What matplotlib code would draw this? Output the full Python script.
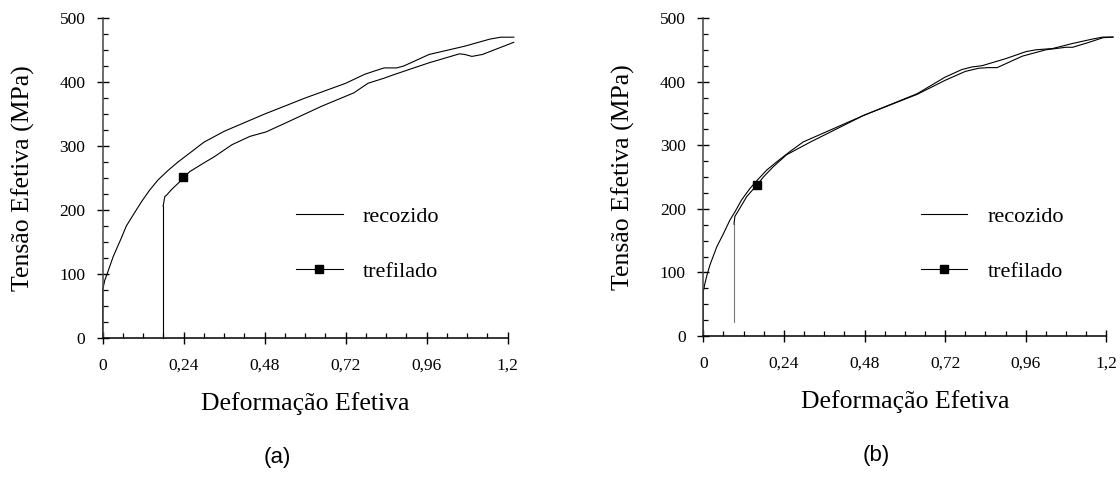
import matplotlib
matplotlib.use("Agg")
import matplotlib.pyplot as plt
from matplotlib.ticker import MultipleLocator, FixedLocator
from matplotlib.lines import Line2D

# ---------------- data ----------------
# panel (a)
a_rec_x = [0.0, 0.0, 0.006, 0.013, 0.031, 0.055, 0.070, 0.090, 0.115, 0.139, 0.164,
           0.194, 0.223, 0.258, 0.30, 0.36, 0.48, 0.60, 0.72, 0.776, 0.81, 0.834,
           0.871, 0.892, 0.967, 1.073, 1.147, 1.179, 1.218]
a_rec_y = [0, 75, 90, 100, 127, 156, 175, 192, 213, 231, 247,
           262, 275, 289, 306, 323, 350, 375, 398, 412, 418, 422,
           422, 425, 443, 456, 467, 470, 470]

a_tre_x = [0.179, 0.179, 0.184, 0.189, 0.204, 0.224, 0.258, 0.298, 0.330, 0.383,
           0.436, 0.484, 0.542, 0.648, 0.744, 0.786, 0.834, 0.860, 0.967, 1.057,
           1.073, 1.094, 1.125, 1.218]
a_tre_y = [0, 206, 221, 223, 232, 242, 260, 273, 283, 302,
           315, 322, 336, 362, 383, 398, 406, 411, 430, 444,
           443, 440, 443, 462]
a_marker_x = [0.237]
a_marker_y = [251]

# panel (b)
b_rec_x = [0.0, 0.0, 0.005, 0.01, 0.02, 0.04, 0.06, 0.079, 0.094, 0.114, 0.139,
           0.159, 0.189, 0.219, 0.258, 0.297, 0.478, 0.637, 0.72, 0.77, 0.80,
           0.83, 0.90, 0.96, 0.99, 1.04, 1.10, 1.16, 1.19, 1.22]
b_rec_y = [0, 70, 83, 94, 112, 140, 161, 182, 195, 214, 232,
           244, 261, 274, 290, 305, 347, 381, 407, 419, 423,
           425, 436, 447, 450, 452, 460, 467, 470, 470]

b_tre_x = [0.0915, 0.0915, 0.094, 0.109, 0.129, 0.159, 0.179, 0.208, 0.248, 0.319,
           0.478, 0.637, 0.72, 0.78, 0.82, 0.85, 0.875, 0.95, 1.02, 1.08,
           1.10, 1.15, 1.19, 1.22]
b_tre_y = [22, 176, 188, 201, 219, 237, 250, 266, 285, 305,
           347, 380, 402, 416, 421, 422, 422, 440, 450, 454,
           454, 462, 469, 470]
b_marker_x = [0.159]
b_marker_y = [237]

x_ticks = [0, 0.24, 0.48, 0.72, 0.96, 1.2]
x_ticklabels = ["0", "0,24", "0,48", "0,72", "0,96", "1,2"]
y_ticks = [0, 100, 200, 300, 400, 500]
y_ticklabels = ["0", "100", "200", "300", "400", "500"]

series_labels = ["recozido", "trefilado"]
panel_labels = ["(a)", "(b)"]
xlabel = "Deformação Efetiva"
ylabel = "Tensão Efetiva (MPa)"

# ---------------- figure ----------------
W, H = 1120, 479
fig = plt.figure(figsize=(W / 100, H / 100), dpi=100)
serif = ["Liberation Serif", "DejaVu Serif"]
sans = ["Liberation Sans", "DejaVu Sans"]


def px_box(left, right, top, bottom):
    return [left / W, 1 - bottom / H, (right - left) / W, (bottom - top) / H]


axes_boxes = [px_box(102.7, 507.7, 18, 338), px_box(703.3, 1106.3, 18, 336)]
panels = [
    (a_rec_x, a_rec_y, a_tre_x, a_tre_y, a_marker_x, a_marker_y, "black"),
    (b_rec_x, b_rec_y, b_tre_x, b_tre_y, b_marker_x, b_marker_y, "#777777"),
]
legend_anchor = [(0.428, 0.294), (0.49, 0.289)]
ylabel_x = [-0.167, -0.17]

for i, (box, data) in enumerate(zip(axes_boxes, panels)):
    rx, ry, tx, ty, mx, my, drop_color = data
    ax = fig.add_axes(box)
    ax.plot(rx, ry, color="black", lw=0.8, clip_on=False)
    # initial vertical jump of the drawn-wire curve
    ax.plot(tx[:2], ty[:2], color=drop_color, lw=0.8, clip_on=False)
    ax.plot(tx[1:], ty[1:], color="black", lw=0.8, clip_on=False)
    ax.plot(mx, my, ls="none", marker="s", ms=6, color="black", clip_on=False)

    ax.set_xlim(0, 1.2)
    ax.set_ylim(0, 500)
    for s in ["top", "right"]:
        ax.spines[s].set_visible(False)
    ax.spines["left"].set_color("#444444")
    ax.spines["left"].set_linewidth(1.1)
    ax.spines["bottom"].set_linewidth(1.1)

    ax.xaxis.set_major_locator(FixedLocator(x_ticks))
    ax.set_xticklabels(x_ticklabels)
    ax.yaxis.set_major_locator(FixedLocator(y_ticks))
    ax.set_yticklabels(y_ticklabels)
    ax.xaxis.set_minor_locator(MultipleLocator(0.06))
    ax.yaxis.set_minor_locator(MultipleLocator(25))
    ax.tick_params(which="major", direction="inout", length=9, width=1.0,
                   labelsize=12.5)
    ax.tick_params(axis="y", which="major", pad=8)
    ax.tick_params(axis="x", which="major", pad=10)
    ax.tick_params(which="minor", direction="in", length=3.6, width=0.9)
    for lab in ax.get_xticklabels() + ax.get_yticklabels():
        lab.set_family(serif)

    ax.set_xlabel(xlabel, fontsize=18.5, family=serif)
    ax.set_ylabel(ylabel, fontsize=18.5, family=serif)
    ax.xaxis.set_label_coords(0.5, -0.17)
    ax.yaxis.set_label_coords(ylabel_x[i], 0.5)

    handles = [
        Line2D([], [], color="black", lw=0.8),
        Line2D([], [], color="black", lw=0.8, marker="s", ms=6),
    ]
    ax.legend(handles, series_labels, loc="center left",
              bbox_to_anchor=legend_anchor[i], frameon=False,
              prop={"family": serif, "size": 16},
              handlelength=2.1, handletextpad=0.9, labelspacing=1.55)

    ax.text(0.43, -0.375, panel_labels[i],
            transform=ax.transAxes, ha="center", va="center",
            fontsize=16, family=sans)

fig.savefig("out.png", dpi=100)
